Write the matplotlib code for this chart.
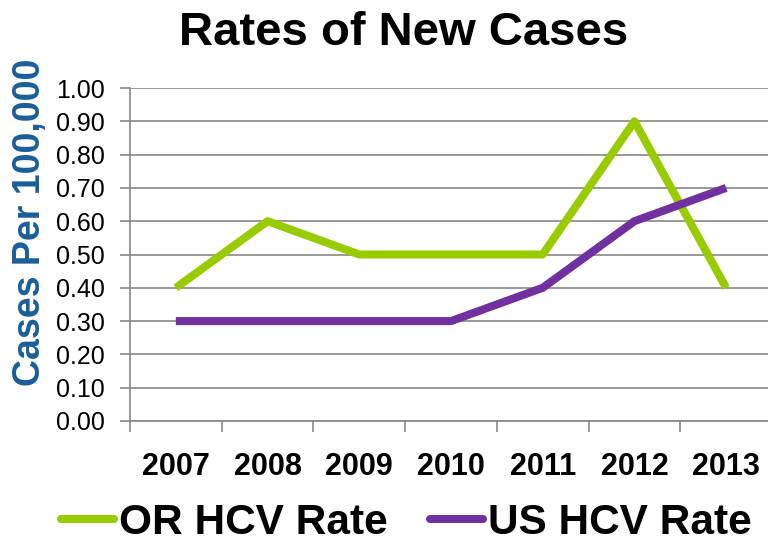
import matplotlib
matplotlib.use("Agg")
import matplotlib.pyplot as plt
from matplotlib.lines import Line2D

years = ["2007", "2008", "2009", "2010", "2011", "2012", "2013"]
or_rate = [0.40, 0.60, 0.50, 0.50, 0.50, 0.90, 0.40]
us_rate = [0.30, 0.30, 0.30, 0.30, 0.40, 0.60, 0.70]
yticks = [0.0, 0.1, 0.2, 0.3, 0.4, 0.5, 0.6, 0.7, 0.8, 0.9, 1.0]

green = "#99CC00"
purple = "#7030A0"

plt.rcParams["font.family"] = ["Liberation Sans", "DejaVu Sans"]

fig = plt.figure(figsize=(7.68, 5.42), dpi=100)
ax = fig.add_axes([130 / 768, 121 / 542, 642 / 768, 333 / 542])

x = list(range(len(years)))
ax.plot(x, or_rate, color=green, lw=5.8, solid_capstyle="butt")
ax.plot(x, us_rate, color=purple, lw=5.8, solid_capstyle="butt")

ax.set_xlim(-0.5, len(years) - 0.5)
ax.set_ylim(0, 1.0)
ax.set_yticks(yticks)
ax.set_yticklabels([f"{v:.2f}" for v in yticks], fontsize=18)
ax.set_xticks(x)
ax.set_xticklabels(years, fontsize=22, fontweight="bold")
ax.set_xticks([i - 0.5 for i in range(len(years) + 1)], minor=True)
ax.tick_params(axis="x", which="major", length=0, pad=22)
ax.tick_params(axis="x", which="minor", length=8, color="#888888", width=1.2)
ax.tick_params(axis="y", length=7, color="#888888", width=1.2, pad=11)

ax.grid(axis="y", color="#888888", lw=1.2)
ax.set_axisbelow(True)
for s in ["top", "right"]:
    ax.spines[s].set_visible(False)
for s in ["left", "bottom"]:
    ax.spines[s].set_color("#888888")
    ax.spines[s].set_linewidth(1.2)

fig.text(30 / 768, 0.59, "Cases Per 100,000", rotation=90, ha="center", va="center",
         fontsize=27, fontweight="bold", color="#1A5E9A")

fig.text(404 / 768, 1 - 45 / 542, "Rates of New Cases", ha="center", va="baseline",
         fontsize=34, fontweight="bold")

handles = [Line2D([], [], color=green, lw=5.8, solid_capstyle="round"),
           Line2D([], [], color=purple, lw=5.8, solid_capstyle="round")]
fig.legend(handles, ["OR HCV Rate", "US HCV Rate"], loc="center",
           bbox_to_anchor=(0.529, 0.035), ncol=2, frameon=False,
           prop={"size": 30.5, "weight": "bold"}, handlelength=1.25,
           handletextpad=0.12, columnspacing=1.0, borderpad=0, borderaxespad=0)

fig.savefig("out.png", dpi=100)
